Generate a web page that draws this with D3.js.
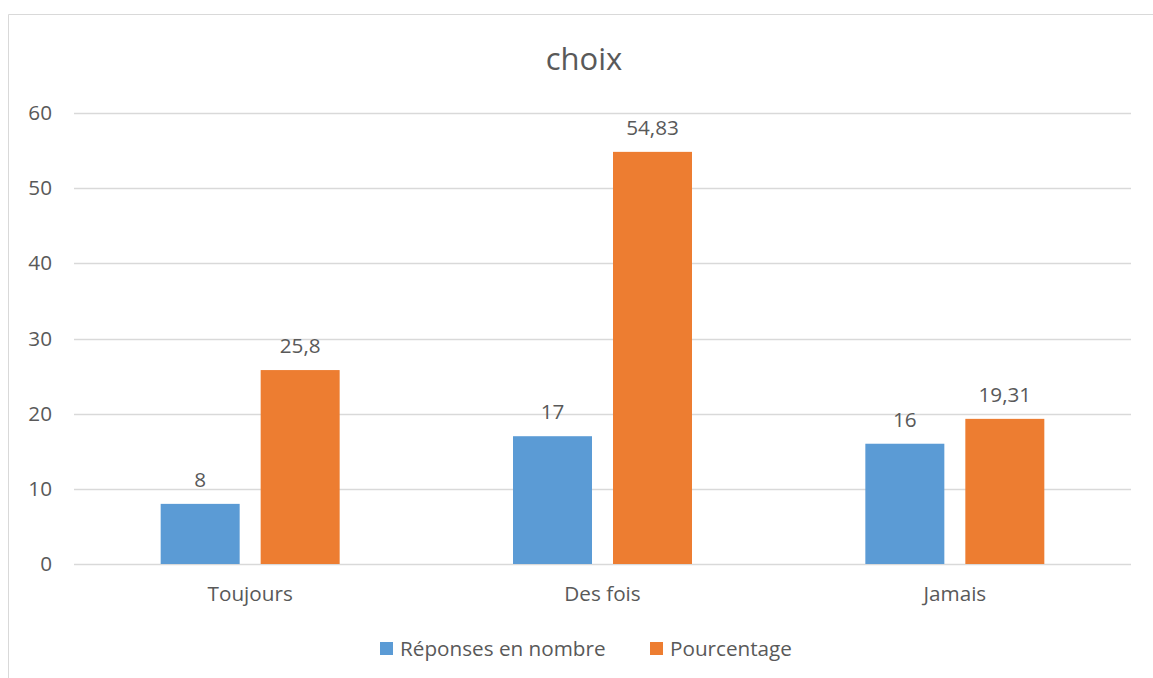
<!DOCTYPE html>
<html><head><meta charset="utf-8">
<script src="https://cdn.jsdelivr.net/npm/d3@7"></script>
<style>body{margin:0;background:#fff;}text{font-family:"Open Sans", Lato, sans-serif;fill:#595959;}</style>
</head><body>
<svg id="c" width="1153" height="678"></svg>
<script>
const categories = ["Toujours", "Des fois", "Jamais"];
const seriesNames = ["Réponses en nombre", "Pourcentage"];
const reponses = [8, 17, 16];
const pourcentage = [25.8, 54.83, 19.31];
const labelsReponses = ["8", "17", "16"];
const labelsPourcentage = ["25,8", "54,83", "19,31"];
const yTicks = [0, 10, 20, 30, 40, 50, 60];
const colors = ["#5b9bd5", "#ed7d31"];

(function(){
const svg = d3.select("#c");
const FONT = '"Open Sans", Lato, sans-serif';
const FS = "20.7px";
// chart frame
svg.append("path").attr("d", "M8.5,678 L8.5,14.5 L1153,14.5").attr("fill","none").attr("stroke","#d9d9d9").attr("stroke-width",1);

const pLeft = 74, pRight = 1131, pTop = 113, pBottom = 564;
const y = d3.scaleLinear().domain([0, 60]).range([pBottom, pTop]);
const x0 = d3.scaleBand().domain(categories).range([pLeft, pRight]).paddingInner(0.492).paddingOuter(0.246);
const x1 = d3.scaleBand().domain(seriesNames).range([0, x0.bandwidth()]).paddingInner(0.21);

// gridlines
svg.append("g").selectAll("line").data(yTicks).join("line")
  .attr("x1", pLeft).attr("x2", pRight)
  .attr("y1", d => Math.round(y(d)) + 0.5).attr("y2", d => Math.round(y(d)) + 0.5)
  .attr("stroke", "#d9d9d9").attr("stroke-width", 1.5);

// y axis labels
const yAxis = d3.axisLeft(y).tickValues(yTicks).tickSize(0).tickPadding(0);
const gy = svg.append("g").attr("transform", `translate(52,0)`).call(yAxis);
gy.select(".domain").remove();
gy.selectAll("text").style("font-size", FS).attr("fill", "#595959").style("font-family", FONT);

// x axis labels
const xAxis = d3.axisBottom(x0).tickSize(0).tickPadding(0);
const gx = svg.append("g").attr("transform", `translate(0,${pBottom})`).call(xAxis);
gx.select(".domain").remove();
gx.selectAll("text").style("font-size", FS).attr("fill", "#595959").style("font-family", FONT).attr("dy", "0").attr("y", 37);

const rows = categories.map((c, i) => ({cat: c, vals: [
  {s: seriesNames[0], v: reponses[i], l: labelsReponses[i]},
  {s: seriesNames[1], v: pourcentage[i], l: labelsPourcentage[i]}]}));

const g = svg.append("g").selectAll("g").data(rows).join("g")
  .attr("transform", d => `translate(${x0(d.cat)},0)`);
g.selectAll("rect").data(d => d.vals).join("rect")
  .attr("x", d => x1(d.s)).attr("width", x1.bandwidth())
  .attr("y", d => y(d.v)).attr("height", d => pBottom - y(d.v))
  .attr("fill", (d, i) => colors[i]);
g.selectAll("text.lbl").data(d => d.vals).join("text").attr("class","lbl")
  .attr("x", d => x1(d.s) + x1.bandwidth()/2).attr("y", d => y(d.v) - 17)
  .attr("text-anchor", "middle").style("font-size", FS).text(d => d.l);

// title
svg.append("text").attr("x", 584).attr("y", 70).attr("text-anchor", "middle").style("font-size", "31px").text("choix");

// legend
const legendX = [380, 650];
const lg = svg.append("g").selectAll("g").data(seriesNames).join("g")
  .attr("transform", (d, i) => `translate(${legendX[i]},0)`);
lg.append("rect").attr("x", 0).attr("y", 642).attr("width", 13).attr("height", 13).attr("fill", (d, i) => colors[i]);
lg.append("text").attr("x", 20).attr("y", 656).style("font-size", FS).text(d => d);
})();
</script>
</body></html>
